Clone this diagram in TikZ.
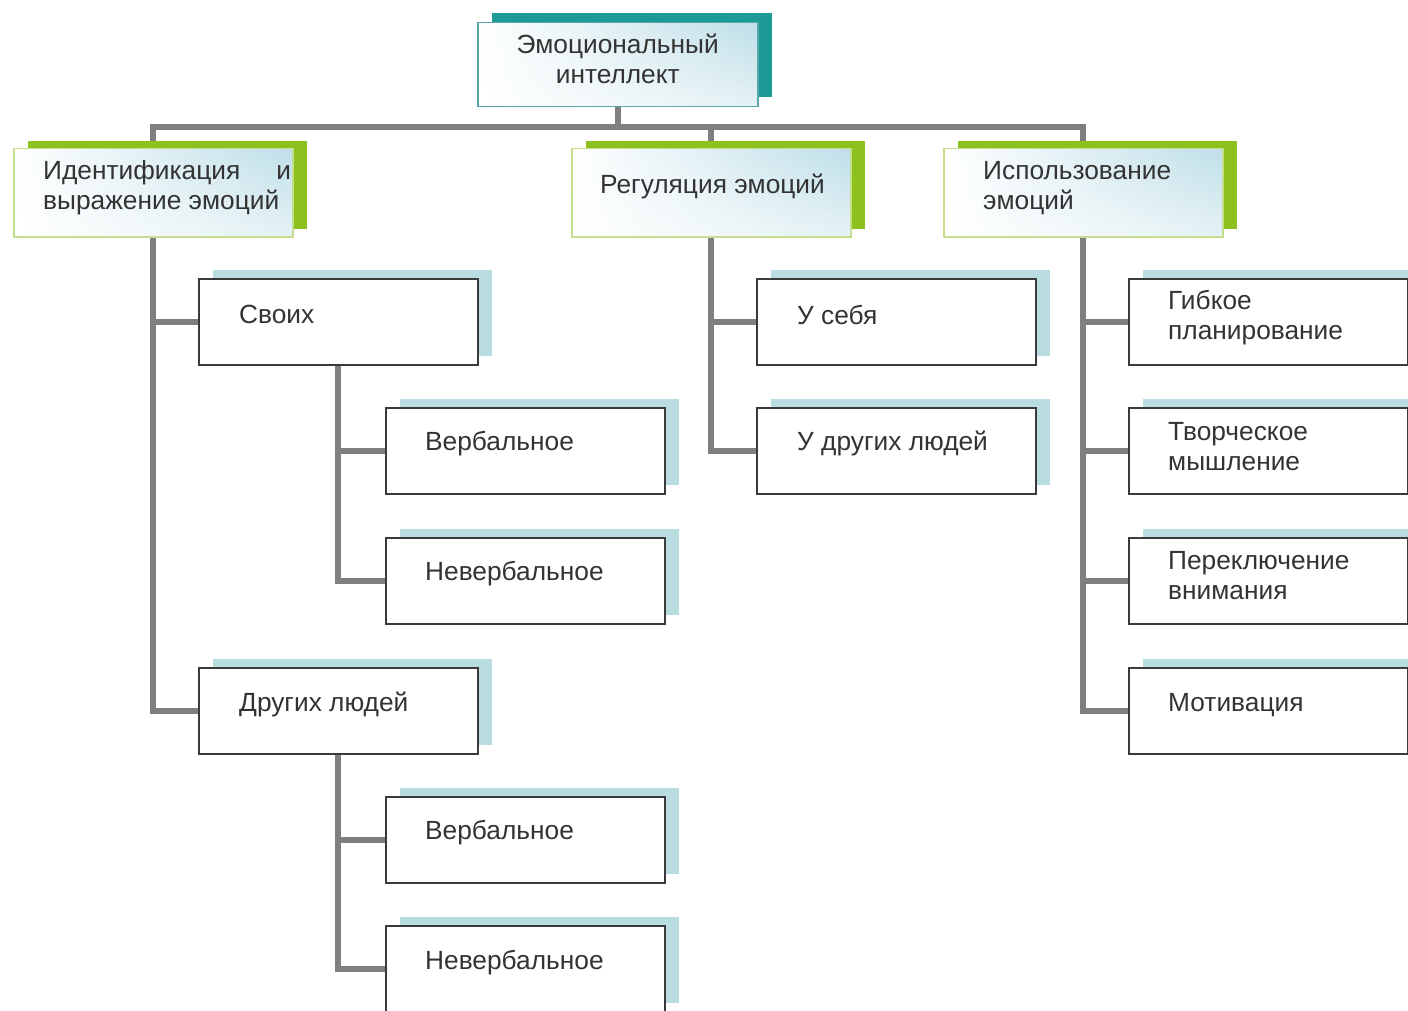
\documentclass[tikz,border=0pt]{standalone}
\usepackage{fontspec}
\setmainfont{Liberation Sans}
\usetikzlibrary{shadows,shadings,backgrounds}
\definecolor{tealsh}{HTML}{1B9A96}
\definecolor{greensh}{HTML}{8CC11E}
\definecolor{leafsh}{HTML}{B8DCE0}
\definecolor{conngray}{HTML}{7F7F7F}
\definecolor{leafborder}{HTML}{3A3A3A}
\definecolor{lvlborder}{HTML}{C5DE8C}
\definecolor{topborder}{HTML}{5AA7AB}
\definecolor{gradblue}{HTML}{BEDFE8}
\definecolor{gradpale}{HTML}{E6F2F5}
\definecolor{textc}{HTML}{333333}
\tikzset{
  boxbase/.style={anchor=north west, inner sep=0pt, minimum width=279pt, minimum height=86pt},
  leaf/.style={boxbase, draw=leafborder, line width=1.5pt, fill=white,
    general shadow={fill=leafsh, shadow xshift=14pt, shadow yshift=9pt}},
  gradfill/.style={shade, shading=bilinear interpolation,
    upper left=white, lower left=white, lower right=gradpale, upper right=gradblue},
  lvl/.style={boxbase, minimum height=88pt, draw=lvlborder, line width=1.5pt, gradfill,
    general shadow={fill=greensh, shadow xshift=14pt, shadow yshift=8pt}},
  topbox/.style={boxbase, minimum width=280pt, minimum height=84pt, draw=topborder, line width=1.5pt, gradfill,
    general shadow={fill=tealsh, shadow xshift=14pt, shadow yshift=10pt}},
  txt/.style={font=\fontsize{26.3}{30}\selectfont, text=textc, align=left, anchor=west, inner sep=0pt},
  conn/.style={draw=conngray, line width=6pt}
}
\begin{document}
\begin{tikzpicture}[x=1pt,y=-1pt]
\useasboundingbox (0,0) rectangle (1408,1011);
% top
\node[topbox] (top) at (477,22) {};
\node[txt, anchor=center, align=center] (top-t) at ([yshift=6pt]top.center) {Эмоциональный\\интеллект};
% level 1
\node[lvl] (id) at (13,148) {};
\node[txt] (id-t) at ([xshift=30pt,yshift=5pt]id.west) {\mbox{Идентификация\hspace{36pt}и}\\выражение эмоций};
\node[lvl] (reg) at (571,148) {};
\node[txt] (reg-t) at ([xshift=29pt,yshift=6pt]reg.west) {Регуляция эмоций};
\node[lvl] (isp) at (943,148) {};
\node[txt] (isp-t) at ([xshift=40pt,yshift=5pt]isp.west) {Использование\\эмоций};
% left branch
\node[leaf] (svoi) at (198,278) {};
\node[txt] (svoi-t) at ([xshift=41pt,yshift=7pt]svoi.west) {Своих};
\node[leaf] (v1) at (385,407) {};
\node[txt] (v1-t) at ([xshift=40pt,yshift=7pt]v1.west) {Вербальное};
\node[leaf] (n1) at (385,537) {};
\node[txt] (n1-t) at ([xshift=40pt,yshift=7pt]n1.west) {Невербальное};
\node[leaf] (dr) at (198,667) {};
\node[txt] (dr-t) at ([xshift=41pt,yshift=6pt]dr.west) {Других людей};
\node[leaf] (v2) at (385,796) {};
\node[txt] (v2-t) at ([xshift=40pt,yshift=7pt]v2.west) {Вербальное};
\node[leaf] (n2) at (385,925) {};
\node[txt] (n2-t) at ([xshift=40pt,yshift=6pt]n2.west) {Невербальное};
% middle branch
\node[leaf] (us) at (756,278) {};
\node[txt] (us-t) at ([xshift=41pt,yshift=7pt]us.west) {У себя};
\node[leaf] (ud) at (756,407) {};
\node[txt] (ud-t) at ([xshift=41pt,yshift=7pt]ud.west) {У других людей};
% right branch
\node[leaf] (gp) at (1128,278) {};
\node[txt] (gp-t) at ([xshift=40pt,yshift=4pt]gp.west) {Гибкое\\планирование};
\node[leaf] (tm) at (1128,407) {};
\node[txt] (tm-t) at ([xshift=40pt,yshift=4pt]tm.west) {Творческое\\мышление};
\node[leaf] (pv) at (1128,537) {};
\node[txt] (pv-t) at ([xshift=40pt,yshift=5pt]pv.west) {Переключение\\внимания};
\node[leaf] (mo) at (1128,667) {};
\node[txt] (mo-t) at ([xshift=40pt,yshift=6pt]mo.west) {Мотивация};
% connectors
\coordinate (bar) at (0,127);
\begin{scope}[on background layer]
\draw[conn] (id.north) -- (id.north |- bar) -- (isp.north |- bar) -- (isp.north);
\draw[conn] (top.south) -- (top.south |- bar);
\draw[conn] (reg.north) -- (reg.north |- bar);
\draw[conn] (id.south) |- (svoi.west);
\draw[conn] (id.south) |- (dr.west);
\draw[conn] (svoi.south) |- (v1.west);
\draw[conn] (svoi.south) |- (n1.west);
\draw[conn] (dr.south) |- (v2.west);
\draw[conn] (dr.south) |- (n2.west);
\draw[conn] (reg.south) |- (us.west);
\draw[conn] (reg.south) |- (ud.west);
\draw[conn] (isp.south) |- (gp.west);
\draw[conn] (isp.south) |- (tm.west);
\draw[conn] (isp.south) |- (pv.west);
\draw[conn] (isp.south) |- (mo.west);
\end{scope}
\end{tikzpicture}
\end{document}
